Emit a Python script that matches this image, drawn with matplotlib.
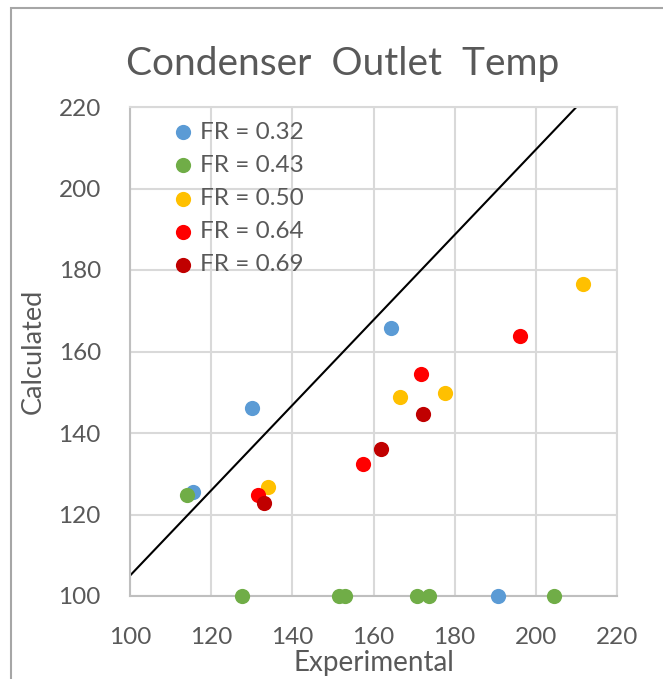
import matplotlib.pyplot as plt
import matplotlib.patches as mpatches
import numpy as np

plt.rcParams['font.family'] = ['Lato', 'DejaVu Sans']

# experimental vs calculated condenser outlet temperature, per FR
fr_labels = ["FR = 0.32", "FR = 0.43", "FR = 0.50", "FR = 0.64", "FR = 0.69"]
colors = ["#5B9BD5", "#70AD47", "#FFC000", "#FF0000", "#C00000"]

exp_032 = [130.1, 115.5, 164.2, 190.7]
calc_032 = [146.1, 125.4, 165.7, 100.0]

exp_043 = [114.0, 127.7, 151.6, 153.1, 170.8, 173.7, 204.4]
calc_043 = [124.9, 100.0, 100.0, 100.0, 100.0, 100.0, 100.0]

exp_050 = [133.9, 166.6, 177.5, 211.6]
calc_050 = [126.7, 148.8, 149.7, 176.5]

exp_064 = [131.6, 157.5, 171.8, 196.0]
calc_064 = [124.9, 132.4, 154.4, 163.9]

exp_069 = [132.9, 161.8, 172.3]
calc_069 = [122.9, 136.1, 144.6]

series = [(exp_032, calc_032), (exp_043, calc_043), (exp_050, calc_050),
          (exp_064, calc_064), (exp_069, calc_069)]

# reference line
line_x = [100, 210]
line_y = [105, 220]

text_col = "#595959"
grid_col = "#D9D9D9"

fig = plt.figure(figsize=(6.63, 6.79), dpi=100)
ax = fig.add_axes([130/663, 83/679, 487/663, 489/679])

for (xs, ys), c, lab in zip(series, colors, fr_labels):
    ax.scatter(xs, ys, s=120, color=c, label=lab, zorder=3,
               clip_on=False, linewidths=0)

ax.plot(line_x, line_y, color="black", lw=1.5, zorder=2)

ax.set_xlim(100, 220)
ax.set_ylim(100, 220)
ax.set_xticks(np.arange(100, 221, 20))
ax.set_yticks(np.arange(100, 221, 20))
ax.grid(True, color=grid_col, lw=1.5, zorder=0)
ax.set_axisbelow(True)
for side in ["top", "right"]:
    ax.spines[side].set_color(grid_col)
    ax.spines[side].set_linewidth(1.5)
for side in ["left", "bottom"]:
    ax.spines[side].set_color("#BFBFBF")
    ax.spines[side].set_linewidth(1.5)
ax.tick_params(length=0, labelsize=17.5, colors=text_col)
ax.tick_params(axis="x", pad=22)
ax.tick_params(axis="y", pad=21)

ax.set_xlabel("Experimental", fontsize=20, color=text_col, labelpad=2)
ax.set_ylabel("Calculated", fontsize=19.5, color=text_col, labelpad=9)
fig.text(343/663, 1 - 75/679, "Condenser  Outlet  Temp", fontsize=28,
         color=text_col, ha="center", va="baseline")

leg = ax.legend(loc="upper left", bbox_to_anchor=(0.054, 1.0), frameon=False,
                fontsize=17.5, labelcolor=text_col, handlelength=1.0,
                handletextpad=0.2, labelspacing=0.5, borderaxespad=0.2,
                markerscale=1.0)

# outer chart border
fig.patches.append(mpatches.Rectangle((11/663, -0.05), 1.0, 1 - 8/679 + 0.05,
                                      transform=fig.transFigure, fill=False,
                                      edgecolor="#A6A6A6", lw=1.5))

fig.savefig("out.png", dpi=100)
